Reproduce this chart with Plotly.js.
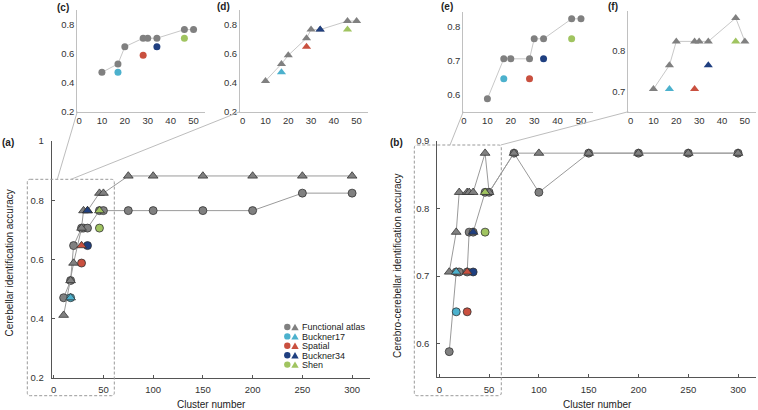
<!DOCTYPE html>
<html>
<head>
<meta charset="utf-8">
<script src="https://cdn.plot.ly/plotly-3.0.1.min.js"></script>
<style>html,body{margin:0;padding:0;background:#fff;}#chart{width:758px;height:410px;}</style>
</head>
<body>
<div id="chart"></div>
<script>
// ---------- DATA ----------
const clusterFA = [10, 17, 20, 28, 30, 34, 46, 50, 75, 100, 150, 200, 250, 300];
// Functional atlas, cerebellar identification accuracy
const cerebFACircle = [0.471, 0.529, 0.647, 0.706, 0.706, 0.706, 0.765, 0.765, 0.765, 0.765, 0.765, 0.765, 0.824, 0.824];
const cerebFATriangle = [0.412, 0.529, 0.588, 0.706, 0.765, 0.765, 0.824, 0.824, 0.882, 0.882, 0.882, 0.882, 0.882, 0.882];
// Functional atlas, cerebro-cerebellar identification accuracy
const ccFACircle = [0.588, 0.706, 0.706, 0.706, 0.765, 0.765, 0.824, 0.824, 0.882, 0.824, 0.882, 0.882, 0.882, 0.882];
const ccFATriangle = [0.706, 0.765, 0.824, 0.824, 0.824, 0.824, 0.882, 0.824, 0.882, 0.882, 0.882, 0.882, 0.882, 0.882];

const methodNames = ["Buckner17", "Spatial", "Buckner34", "Shen"];
const methodClusters = [17, 28, 34, 46];
const cerebMethodCircle = [0.471, 0.588, 0.647, 0.706];
const cerebMethodTriangle = [0.471, 0.647, 0.765, 0.765];
const ccMethodCircle = [0.647, 0.647, 0.706, 0.765];
const ccMethodTriangle = [0.706, 0.706, 0.765, 0.824];

const legendLabels = ["Functional atlas", "Buckner17", "Spatial", "Buckner34", "Shen"];
const mainXTicks = [0, 50, 100, 150, 200, 250, 300];
const insetXTicks = [0, 10, 20, 30, 40, 50];
const cerebYTicks = [0.2, 0.4, 0.6, 0.8, 1];
const cerebYTickText = ["0.2", "0.4", "0.6", "0.8", "1"];
const ccYTicks = [0.6, 0.7, 0.8, 0.9];
const insetCYTicks = [0.2, 0.4, 0.6, 0.8];
const insetEYTicks = [0.6, 0.7, 0.8];
const insetFYTicks = [0.7, 0.8];
const insetMax = 50;

// ---------- STYLE ----------
const GREY = "#808080";
const methodColors = ["#4cb1cd", "#c9503f", "#1f3f80", "#a0c460"];
const legendColors = [GREY].concat(methodColors);
const W = 758, H = 410;
const FONT = "Liberation Sans, Arial, sans-serif";

function px(a, b) { return [a / W, b / W]; }
function py(top, bottom) { return [1 - bottom / H, 1 - top / H]; }
function fx(v) { return v / W; }
function fy(v) { return 1 - v / H; }

const traces = [];
function mainTraces(xa, ya, circ, tri, mCirc, mTri) {
  const common = {xaxis: xa, yaxis: ya, hoverinfo: "skip", showlegend: false};
  traces.push(Object.assign({type: "scatter", mode: "lines+markers", x: clusterFA, y: circ,
    line: {color: "#9a9a9a", width: 1},
    marker: {symbol: "circle", size: 8, color: GREY, line: {color: "#333", width: 0.8}}}, common));
  traces.push(Object.assign({type: "scatter", mode: "lines+markers", x: clusterFA, y: tri,
    line: {color: "#9a9a9a", width: 1},
    marker: {symbol: "triangle-up", size: 8.5, color: GREY, line: {color: "#333", width: 0.8}}}, common));
  traces.push(Object.assign({type: "scatter", mode: "markers", x: methodClusters, y: mCirc, text: methodNames,
    marker: {symbol: "circle", size: 8, color: methodColors, line: {color: "#333", width: 0.8}}}, common));
  traces.push(Object.assign({type: "scatter", mode: "markers", x: methodClusters, y: mTri, text: methodNames,
    marker: {symbol: "triangle-up", size: 8.5, color: methodColors, line: {color: "#333", width: 0.8}}}, common));
}
function insetTraces(xa, ya, faVals, mVals, symbol, size) {
  const xs = [], ys = [];
  clusterFA.forEach((c, i) => { if (c <= insetMax) { xs.push(c); ys.push(faVals[i]); } });
  const common = {xaxis: xa, yaxis: ya, hoverinfo: "skip", showlegend: false};
  traces.push(Object.assign({type: "scatter", mode: "lines+markers", x: xs, y: ys,
    line: {color: "#c8c8c8", width: 1},
    marker: {symbol: symbol, size: size, color: GREY}}, common));
  traces.push(Object.assign({type: "scatter", mode: "markers", x: methodClusters, y: mVals, text: methodNames,
    marker: {symbol: symbol, size: size, color: methodColors}}, common));
}

mainTraces("x", "y", cerebFACircle, cerebFATriangle, cerebMethodCircle, cerebMethodTriangle);
mainTraces("x2", "y2", ccFACircle, ccFATriangle, ccMethodCircle, ccMethodTriangle);
insetTraces("x3", "y3", cerebFACircle, cerebMethodCircle, "circle", 7);
insetTraces("x4", "y4", cerebFATriangle, cerebMethodTriangle, "triangle-up", 8);
insetTraces("x5", "y5", ccFACircle, ccMethodCircle, "circle", 7);
insetTraces("x6", "y6", ccFATriangle, ccMethodTriangle, "triangle-up", 8);

const tickFont = {family: FONT, size: 9.5, color: "#333"};
function mainX(domain, anchor) {
  return {domain: domain, anchor: anchor, range: [-2, 318], tickvals: mainXTicks, showgrid: false, zeroline: false,
    showline: true, linecolor: "#555", linewidth: 1, ticks: "inside", ticklen: 3, tickcolor: "#555",
    tickfont: tickFont, ticklabelstandoff: 3, fixedrange: true};
}
function mainY(domain, anchor, range, vals, text) {
  const o = {domain: domain, anchor: anchor, range: range, tickvals: vals, showgrid: false, zeroline: false,
    showline: true, linecolor: "#555", linewidth: 1, ticks: "inside", ticklen: 3, tickcolor: "#555",
    tickfont: tickFont, ticklabelstandoff: 5, fixedrange: true};
  if (text) o.ticktext = text;
  return o;
}
function insetX(domain, anchor, range) {
  return {domain: domain, anchor: anchor, range: range, tickvals: insetXTicks, showgrid: false, zeroline: false,
    showline: true, linecolor: "#c0c0c0", linewidth: 1, ticks: "", tickfont: tickFont, fixedrange: true};
}
function insetY(domain, anchor, range, vals) {
  return {domain: domain, anchor: anchor, range: range, tickvals: vals, showgrid: false, zeroline: false,
    showline: true, linecolor: "#c0c0c0", linewidth: 1, ticks: "", tickfont: tickFont, fixedrange: true};
}

const shapes = [];
// dashed zoom boxes with rounded corners
function roundRect(x0, y0, x1, y1, r) {
  const P = (x, y) => fx(x) + "," + fy(y);
  return "M" + P(x0 + r, y0) + " L" + P(x1 - r, y0) + " Q" + P(x1, y0) + " " + P(x1, y0 + r) +
    " L" + P(x1, y1 - r) + " Q" + P(x1, y1) + " " + P(x1 - r, y1) +
    " L" + P(x0 + r, y1) + " Q" + P(x0, y1) + " " + P(x0, y1 - r) +
    " L" + P(x0, y0 + r) + " Q" + P(x0, y0) + " " + P(x0 + r, y0) + " Z";
}
shapes.push({type: "path", xref: "paper", yref: "paper", path: roundRect(27.3, 179.3, 114.3, 395.7, 3),
  line: {color: "#999", width: 1, dash: "3px,2px"}});
shapes.push({type: "path", xref: "paper", yref: "paper", path: roundRect(414.3, 145, 501.3, 395.7, 3),
  line: {color: "#999", width: 1, dash: "3px,2px"}});
// connector lines
[[57.3, 179.3, 77.3, 111.7], [71, 179.3, 240, 111.7], [450, 145, 463.3, 111.7], [500.7, 145, 628.3, 111.7]].forEach(l => {
  shapes.push({type: "line", xref: "paper", yref: "paper", x0: fx(l[0]), y0: fy(l[1]), x1: fx(l[2]), y1: fy(l[3]),
    line: {color: "#bdbdbd", width: 1}});
});

const annotations = [];
function ann(text, x, y, opts) {
  annotations.push(Object.assign({text: text, xref: "paper", yref: "paper", x: fx(x), y: fy(y), showarrow: false,
    xanchor: "center", yanchor: "middle", font: {family: FONT, size: 10, color: "#222"}}, opts || {}));
}
ann("<b>(a)</b>", 7.5, 142);
ann("<b>(b)</b>", 396, 142);
ann("<b>(c)</b>", 63, 7);
ann("<b>(d)</b>", 223, 6);
ann("<b>(e)</b>", 447, 6);
ann("<b>(f)</b>", 613, 6);
ann("Cerebellar identification accuracy", 8.5, 263, {textangle: -90});
ann("Cerebro-cerebellar identification accuracy", 397, 266, {textangle: -90});
ann("Cluster number", 211, 404);
ann("Cluster number", 597, 404);

// legend (drawn manually: each entry has a circle and a triangle)
const legTop = 327, legStep = 9.4;
legendLabels.forEach((lab, i) => {
  const yc = legTop + i * legStep;
  const col = legendColors[i];
  const cx = 287.3, r = 3.2;
  shapes.push({type: "circle", xref: "paper", yref: "paper", x0: fx(cx - r), x1: fx(cx + r), y0: fy(yc + r), y1: fy(yc - r),
    fillcolor: col, line: {color: col, width: 0}});
  const tx = 295, hw = 3.7, th = 3.2;
  const path = "M " + fx(tx - hw) + " " + fy(yc + th) + " L " + fx(tx + hw) + " " + fy(yc + th) + " L " + fx(tx) + " " + fy(yc - th) + " Z";
  shapes.push({type: "path", xref: "paper", yref: "paper", path: path, fillcolor: col, line: {color: col, width: 0}});
  ann(lab, 300.5, yc + 0.3, {xanchor: "left", borderpad: 0, font: {family: FONT, size: 9, color: "#222"}});
});

const layout = {
  width: W, height: H, margin: {l: 0, r: 0, t: 0, b: 0},
  paper_bgcolor: "#fff", plot_bgcolor: "rgba(0,0,0,0)", showlegend: false,
  font: {family: FONT, size: 10, color: "#333"},
  xaxis: mainX(px(51.7, 370), "y"),
  yaxis: mainY(py(141, 378), "x", [0.2, 1.0], cerebYTicks, cerebYTickText),
  xaxis2: mainX(px(437.3, 756), "y2"),
  yaxis2: mainY(py(141, 377.3), "x2", [0.55, 0.9], ccYTicks),
  xaxis3: insetX(px(77.3, 205), "y3", [-0.75, 55]),
  yaxis3: insetY(py(10, 111.7), "x3", [0.2, 0.9], insetCYTicks),
  xaxis4: insetX(px(240, 368), "y4", [-1.2, 55]),
  yaxis4: insetY(py(10, 111.7), "x4", [0.2, 0.9], insetCYTicks),
  xaxis5: insetX(px(463.3, 592.7), "y5", [-0.3, 55]),
  yaxis5: insetY(py(11.7, 111.7), "x5", [0.55, 0.845], insetEYTicks),
  xaxis6: insetX(px(628.3, 756.3), "y6", [-1, 55]),
  yaxis6: insetY(py(10.7, 111.7), "x6", [0.65, 0.9], insetFYTicks),
  shapes: shapes,
  annotations: annotations
};

Plotly.newPlot("chart", traces, layout, {displayModeBar: false, staticPlot: true});
</script>
</body>
</html>
